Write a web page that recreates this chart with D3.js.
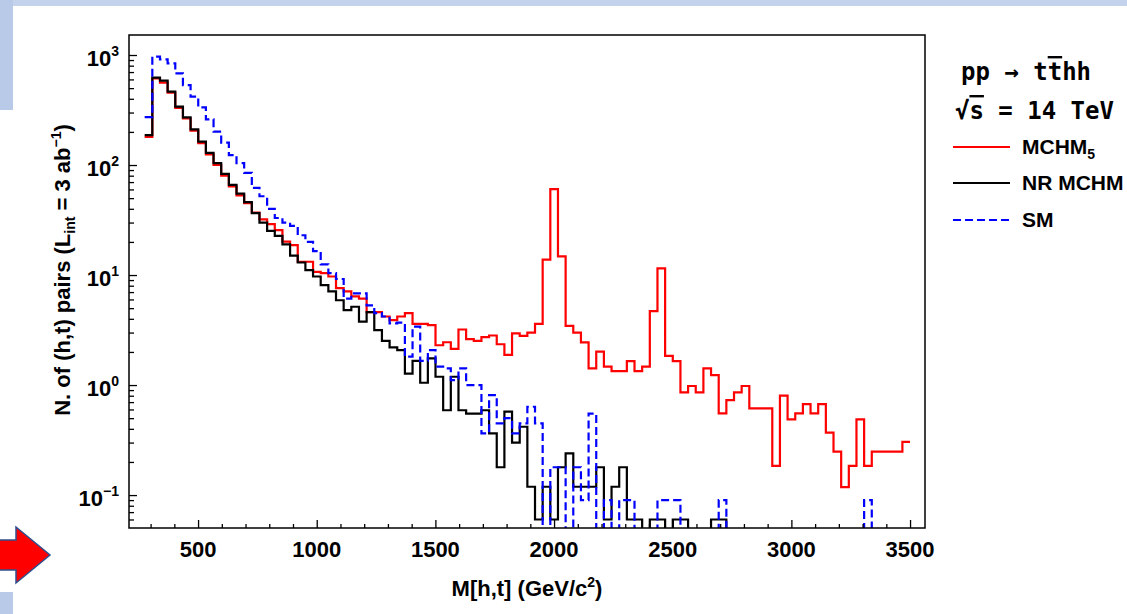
<!DOCTYPE html>
<html>
<head>
<meta charset="utf-8">
<script src="https://cdn.jsdelivr.net/npm/d3@7/dist/d3.min.js"></script>
<style>
  body { margin: 0; background: #fff; }
  svg { display: block; }
</style>
</head>
<body>
<script>
var width = 1127
var height = 614
var plot = { left: 129, right: 925, top: 35, bottom: 528 }

// histogram binning (GeV): 100 bins from binStart
var binStart = 275
var binWidth = 32.25

var xTicks = [500, 1000, 1500, 2000, 2500, 3000, 3500]
var yTicks = [0.1, 1, 10, 100, 1000]
var yTickExp = ['\u22121', '0', '1', '2', '3']

var seriesNames = ['MCHM', 'NR MCHM', 'SM']
var seriesColors = ['#ff0000', '#000000', '#0000ff']

// N. of (h,t) pairs per bin (0 = empty bin)
var mchm5 = [180, 614, 560, 455, 330, 265, 205, 158, 125, 100,
  80, 64, 53, 45, 37, 32, 29, 25.6, 20.1, 18.7,
  13.2, 13.2, 10.7, 10.4, 9.7, 7.6, 7.1, 6.4, 6.1, 4.6,
  4.6, 4.2, 3.9, 4.2, 4.5, 3.6, 3.6, 3.5, 2.3, 2.45,
  2.13, 3.2, 2.62, 2.52, 2.73, 2.82, 2.35, 1.88, 2.95, 2.8,
  3.0, 3.6, 13.8, 60.5, 14.8, 3.45, 3.0, 2.44, 1.42, 2.01,
  1.47, 1.34, 1.34, 1.65, 1.34, 1.47, 4.7, 11.5, 1.84, 1.65,
  0.857, 0.98, 0.857, 1.42, 1.23, 0.552, 0.73, 0.857, 0.98, 0.614,
  0.614, 0.614, 0.184, 0.80, 0.488, 0.552, 0.67, 0.552, 0.67, 0.369,
  0.248, 0.118, 0.184, 0.488, 0.184, 0.248, 0.248, 0.248, 0.248, 0.305]

var nrMchm = [187, 622, 585, 464, 339, 271, 211, 163, 129, 104,
  83, 66, 55, 46, 36.5, 30, 25.2, 22.7, 19, 15,
  13, 11.1, 9.7, 8.1, 7.1, 5.9, 4.8, 5.15, 3.77, 4.6,
  3.16, 2.52, 2.2, 2.08, 1.27, 1.66, 1.05, 1.75, 1.19, 0.59,
  1.19, 0.59, 0.55, 0.55, 0.59, 0.364, 0.179, 0.573, 0.30, 0.418,
  0.119, 0.06, 0.119, 0.06, 0.179, 0.239, 0.119, 0.119, 0.119, 0.179,
  0.06, 0.119, 0.179, 0.06, 0.06, 0, 0.06, 0.06, 0, 0.06,
  0.06, 0, 0, 0, 0.06, 0.06, 0, 0, 0, 0,
  0, 0, 0, 0, 0, 0, 0, 0, 0, 0,
  0, 0, 0, 0, 0, 0, 0, 0, 0, 0]

var sm = [272, 966, 914, 840, 681, 533, 418, 334, 260, 201,
  160, 123, 104, 85, 62, 52, 40, 33, 30, 28,
  23, 20, 16.5, 12.5, 10.4, 9.2, 6.1, 6.8, 6.8, 5.3,
  4.5, 4.2, 3.64, 3.7, 1.81, 3.4, 1.66, 2.08, 1.47, 1.42,
  1.11, 1.42, 1.0, 1.0, 0.364, 0.81, 0.449, 0.5, 0.364, 0.449,
  0.635, 0.449, 0, 0.179, 0.179, 0, 0.179, 0.09, 0.55, 0,
  0.09, 0, 0.09, 0.09, 0, 0, 0, 0.09, 0.09, 0.09,
  0, 0, 0, 0, 0, 0.09, 0, 0, 0, 0,
  0, 0, 0, 0, 0, 0, 0, 0, 0, 0,
  0, 0, 0, 0, 0.09, 0, 0, 0, 0, 0]

var series = [mchm5, nrMchm, sm]
var edges = d3.range(0, mchm5.length + 1).map(i => binStart + i * binWidth)

var svg = d3.select('body').append('svg')
  .attr('width', width)
  .attr('height', height)
  .style('font-family', 'Liberation Sans, Arial, sans-serif')

// slide decoration behind the chart
var deco = svg.append('g')
deco.append('rect').attr('x', 0).attr('y', 0).attr('width', width).attr('height', 6).attr('fill', '#c4d2ec')
deco.append('rect').attr('x', 0).attr('y', 0).attr('width', 13).attr('height', 110).attr('fill', '#b9cae9')
deco.append('rect').attr('x', 0).attr('y', 592).attr('width', 13).attr('height', 22).attr('fill', '#b9cae9')
deco.append('path')
  .attr('d', 'M-2,540 L16,540 L16,527 L50,555 L16,583 L16,570 L-2,570 Z')
  .attr('fill', '#ff0000')
  .attr('stroke', '#2f4f8f')
  .attr('stroke-width', 1.5)

var xScale = d3.scaleLinear()
  .domain([209, 3563])
  .range([plot.left, plot.right])

var yScale = d3.scaleLog()
  .domain([0.0502, 1520])
  .range([plot.bottom, plot.top])

var floorValue = 0.001

svg.append('clipPath').attr('id', 'clip')
  .append('rect')
  .attr('x', plot.left).attr('y', plot.top)
  .attr('width', plot.right - plot.left)
  .attr('height', plot.bottom - plot.top)

var line = d3.line()
  .x(d => xScale(d.x))
  .y(d => yScale(d.v > 0 ? d.v : floorValue))
  .curve(d3.curveStepAfter)

function stepPoints(vals) {
  var pts = vals.map((v, i) => ({ x: edges[i], v: v }))
  pts.push({ x: edges[vals.length], v: vals[vals.length - 1] })
  return pts
}

var lines = svg.append('g').attr('clip-path', 'url(#clip)')
series.forEach((vals, k) => {
  lines.append('path')
    .attr('d', line(stepPoints(vals)))
    .attr('fill', 'none')
    .attr('stroke', seriesColors[k])
    .attr('stroke-width', 2.2)
    .attr('stroke-dasharray', k == 2 ? '8,4' : null)
})

// axes: ticks point inward, labels drawn by hand
var xMinor = d3.range(300, 3600, 100).filter(v => xTicks.indexOf(v) < 0)
var yMinor = []
;[-2, -1, 0, 1, 2].forEach(e => {
  d3.range(2, 10).forEach(m => {
    var v = m * Math.pow(10, e)
    if (v > 0.0502 && v < 1520) yMinor.push(v)
  })
})

function tickStyle(g) {
  g.select('.domain').remove()
  g.selectAll('line').attr('stroke', '#000').attr('stroke-width', 1.3)
  g.selectAll('text').remove()
}

svg.append('g')
  .attr('transform', 'translate(0,' + plot.bottom + ')')
  .call(d3.axisBottom(xScale).tickValues(xTicks).tickSize(-8))
  .call(tickStyle)
svg.append('g')
  .attr('transform', 'translate(0,' + plot.bottom + ')')
  .call(d3.axisBottom(xScale).tickValues(xMinor).tickSize(-4))
  .call(tickStyle)
svg.append('g')
  .attr('transform', 'translate(' + plot.left + ',0)')
  .call(d3.axisLeft(yScale).tickValues(yTicks).tickSize(-8))
  .call(tickStyle)
svg.append('g')
  .attr('transform', 'translate(' + plot.left + ',0)')
  .call(d3.axisLeft(yScale).tickValues(yMinor).tickSize(-5))
  .call(tickStyle)

svg.append('rect')
  .attr('x', plot.left).attr('y', plot.top)
  .attr('width', plot.right - plot.left)
  .attr('height', plot.bottom - plot.top)
  .attr('fill', 'none')
  .attr('stroke', '#000')
  .attr('stroke-width', 1.5)

svg.append('g').selectAll('text')
  .data(xTicks)
  .enter().append('text')
  .attr('x', d => xScale(d))
  .attr('y', 557)
  .attr('text-anchor', 'middle')
  .attr('font-size', 22)
  .attr('font-weight', 'bold')
  .text(d => d)

var yLab = svg.append('g').selectAll('text')
  .data(yTicks)
  .enter().append('text')
  .attr('x', 119)
  .attr('y', d => yScale(d) + 11)
  .attr('text-anchor', 'end')
  .attr('font-size', 22)
  .attr('font-weight', 'bold')
yLab.append('tspan').text('10')
yLab.append('tspan').attr('dy', -10).attr('font-size', 14).text((d, i) => yTickExp[i])

// axis titles
var xTitle = svg.append('text')
  .attr('x', (plot.left + plot.right) / 2)
  .attr('y', 596)
  .attr('text-anchor', 'middle')
  .attr('font-size', 22)
  .attr('font-weight', 'bold')
xTitle.append('tspan').text('M[h,t] (GeV/c')
xTitle.append('tspan').attr('dy', -9).attr('font-size', 14).text('2')
xTitle.append('tspan').attr('dy', 9).text(')')

var yTitle = svg.append('text')
  .attr('transform', 'translate(70,270) rotate(-90)')
  .attr('text-anchor', 'middle')
  .attr('font-size', 22)
  .attr('font-weight', 'bold')
yTitle.append('tspan').text('N. of (h,t) pairs (L')
yTitle.append('tspan').attr('dy', 5).attr('font-size', 14).text('int')
yTitle.append('tspan').attr('dy', -5).text(' = 3 ab')
yTitle.append('tspan').attr('dy', -9).attr('font-size', 14).text('\u22121')
yTitle.append('tspan').attr('dy', 9).text(')')

// legend
var legend = svg.append('g')
var proc = legend.append('text')
  .attr('x', 961).attr('y', 80)
  .attr('font-family', 'DejaVu Sans Mono, monospace')
  .attr('font-size', 24)
  .attr('font-weight', 'bold')
proc.append('tspan').text('pp \u2192 t')
proc.append('tspan').style('text-decoration', 'overline').text('t')
proc.append('tspan').text('hh')

var energy = legend.append('text')
  .attr('x', 955).attr('y', 119)
  .attr('font-family', 'DejaVu Sans Mono, monospace')
  .attr('font-size', 24)
  .attr('font-weight', 'bold')
energy.append('tspan').text('\u221A')
energy.append('tspan').style('text-decoration', 'overline').text('s')
energy.append('tspan').text(' = 14 TeV')

var legendY = [147, 183, 220]
seriesNames.forEach((name, k) => {
  legend.append('line')
    .attr('x1', 953).attr('x2', 1010)
    .attr('y1', legendY[k]).attr('y2', legendY[k])
    .attr('stroke', seriesColors[k])
    .attr('stroke-width', 2)
    .attr('stroke-dasharray', k == 2 ? '8,4' : null)
  var t = legend.append('text')
    .attr('x', 1022).attr('y', legendY[k] + 7)
    .attr('font-size', 21)
    .attr('font-weight', 'bold')
    .text(name)
  if (k == 0) t.append('tspan').attr('dy', 5).attr('font-size', 14).text('5')
})
</script>
</body>
</html>
